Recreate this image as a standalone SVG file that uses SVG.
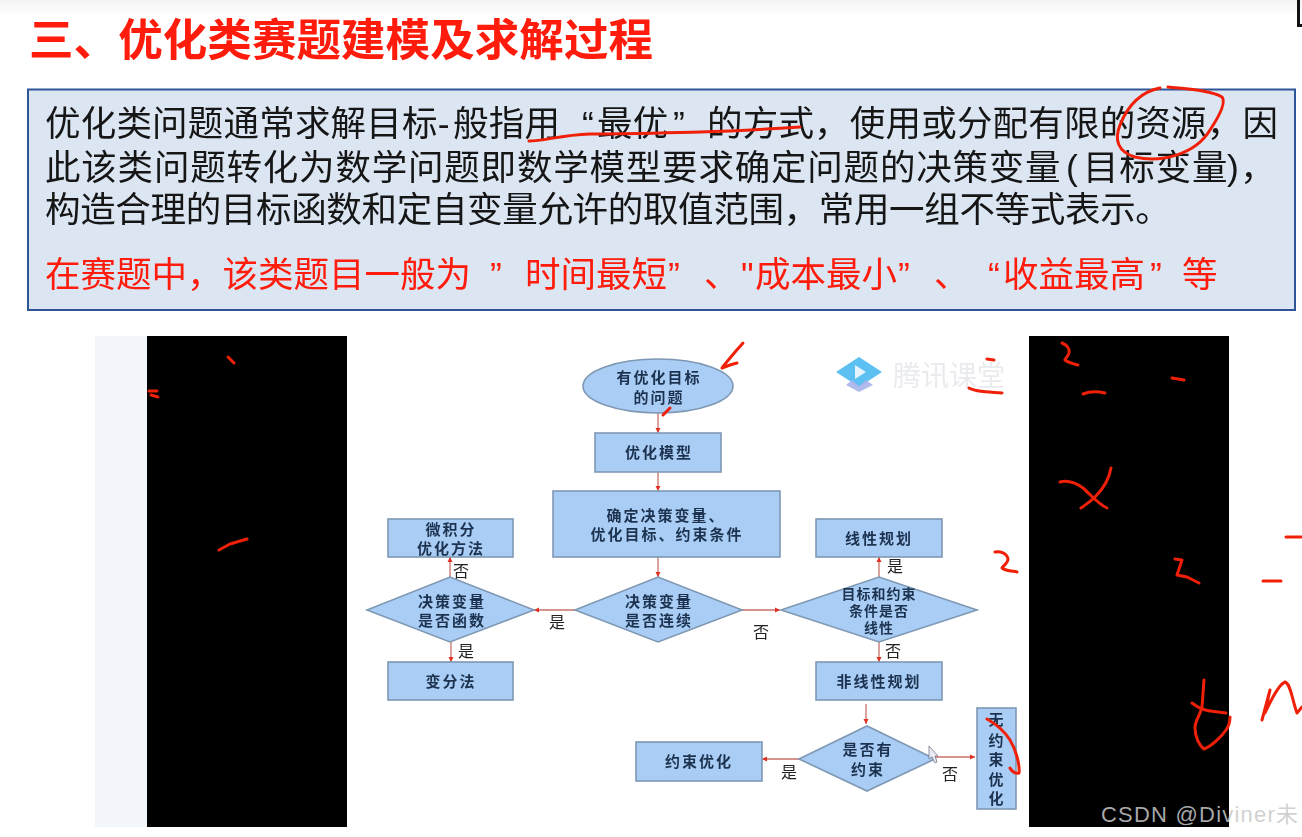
<svg xmlns="http://www.w3.org/2000/svg" width="1302" height="837" viewBox="0 0 1302 837">
<style>
.cjk{font-family:"Noto Sans CJK SC","Noto Sans",sans-serif}
.n{fill:#a9cdf5;stroke:#7f98b3;stroke-width:1.6}
.nt{font-family:"Liberation Sans","Noto Sans CJK SC",sans-serif;font-size:15px;font-weight:700;fill:#1d3350;text-anchor:middle;letter-spacing:2px}
.l{font-family:"Liberation Sans","Noto Sans CJK SC",sans-serif;font-size:16px;fill:#222;text-anchor:middle}
.c{fill:none;stroke:#c8706a;stroke-width:1.3}
.ink{fill:none;stroke:#f02008;stroke-width:3;stroke-linecap:round;stroke-linejoin:round}
.body{font-family:"Liberation Sans","Noto Sans CJK SC",sans-serif;font-size:35.5px;fill:#151515;letter-spacing:0.2px}
.red{font-family:"Liberation Sans","Noto Sans CJK SC",sans-serif;font-size:35.5px;fill:#ff1a08}
</style>
<defs>
<marker id="a" markerWidth="6" markerHeight="6" refX="5" refY="3" orient="auto" markerUnits="userSpaceOnUse"><path d="M0,0.5 L5,3 L0,5.500 Z" fill="#e03020"/></marker>
<filter id="soft" x="-5%" y="-5%" width="110%" height="110%"><feGaussianBlur stdDeviation="0.45"/></filter>
<linearGradient id="top" x1="0" y1="0" x2="0" y2="1"><stop offset="0" stop-color="#f4f4f4"/><stop offset="1" stop-color="#ffffff"/></linearGradient>
</defs>
<rect width="1302" height="837" fill="#fff"/>
<rect width="1302" height="16" fill="url(#top)"/>
<path d="M1297,0 V27 H1302 V24 H1300 V0 Z" fill="#111"/>
<g filter="url(#soft)">
<text class="cjk" x="29" y="56" font-size="44.5" font-weight="700" fill="#ff1a08" textLength="624" lengthAdjust="spacing">三、优化类赛题建模及求解过程</text>
<g id="intro">
<rect x="28" y="89.500" width="1267" height="220.500" fill="#dce6f3" stroke="#2f5597" stroke-width="2"/>
<text class="body" y="136"><tspan x="45">优化类问题通常求解目标-</tspan><tspan x="453">般指用</tspan><tspan x="582">“</tspan><tspan x="597">最优</tspan><tspan x="673">”</tspan><tspan x="707">的方式，使用或分配有限的资源，因</tspan></text>
<text class="body" y="180" style="letter-spacing:0.8px"><tspan x="45">此该类问题转化为数学问题即数学模型要求确定问题的决策变量</tspan><tspan x="1066">(</tspan><tspan x="1083">目标变量</tspan><tspan x="1227">)</tspan><tspan x="1240">，</tspan></text>
<text class="body" x="45" y="222" textLength="1126" lengthAdjust="spacing">构造合理的目标函数和定自变量允许的取值范围，常用一组不等式表示。</text>
<text class="red" y="287"><tspan x="45">在赛题中，该类题目一般为</tspan><tspan x="490">”</tspan><tspan x="525">时间最短</tspan><tspan x="668">”</tspan><tspan x="704">、</tspan><tspan x="741">"</tspan><tspan x="755">成本最小</tspan><tspan x="898">”</tspan><tspan x="934">、</tspan><tspan x="988">“</tspan><tspan x="1003">收益最高</tspan><tspan x="1150">”</tspan><tspan x="1182">等</tspan></text>
</g>
</g>
<rect x="95" y="336" width="52" height="491" fill="#f2f6fb"/>
<rect x="147" y="336" width="200" height="491" fill="#000"/>
<rect x="1029" y="336" width="200" height="491" fill="#000"/>
<g id="logo">
<path d="M836,372 L859,357 L882,372 L859,387 Z" fill="#5cc0f2"/>
<path d="M846,385 L859,392 L873,385 L866,380 L859,386 L852,380 Z" fill="#a9b4ea" opacity="0.9"/>
<path d="M855,365 L866,372 L855,379 Z" fill="#e4f4fc"/>
<text class="cjk" x="893" y="386" font-size="28" font-weight="400" fill="#e9ebee" filter="url(#soft)">腾讯课堂</text>
</g>
<g id="connectors">
<path class="c" marker-end="url(#a)" d="M658,413 V433"/>
<path class="c" marker-end="url(#a)" d="M658,472 V491"/>
<path class="c" marker-end="url(#a)" d="M658,557 V577"/>
<path class="c" marker-end="url(#a)" d="M450,577 V557"/>
<path class="c" marker-end="url(#a)" d="M451,642 V662"/>
<path class="c" marker-end="url(#a)" d="M575,610 H534"/>
<path class="c" marker-end="url(#a)" d="M742,610 H780"/>
<path class="c" marker-end="url(#a)" d="M879,577 V557"/>
<path class="c" marker-end="url(#a)" d="M879,642 V662"/>
<path class="c" marker-end="url(#a)" d="M866,704 V724"/>
<path class="c" marker-end="url(#a)" d="M799,759 H762"/>
<path class="c" marker-end="url(#a)" d="M935,757 H975"/>
</g>
<g filter="url(#soft)">
<g id="n1"><ellipse class="n" cx="658" cy="386" rx="75" ry="27"/><text class="nt" x="659" y="383">有优化目标</text><text class="nt" x="659" y="403">的问题</text></g>
<g id="n2"><rect class="n" x="595" y="433" width="126" height="39"/><text class="nt" x="659" y="458">优化模型</text></g>
<g id="n3"><rect class="n" x="553" y="491" width="227" height="66"/><text class="nt" x="666" y="521">确定决策变量、</text><text class="nt" x="667" y="540">优化目标、约束条件</text></g>
<g id="n4"><rect class="n" x="388" y="519" width="125" height="38"/><text class="nt" x="451" y="535">微积分</text><text class="nt" x="451" y="554">优化方法</text></g>
<g id="n5"><rect class="n" x="816" y="519" width="126" height="38"/><text class="nt" x="879" y="544">线性规划</text></g>
<g id="n6"><polygon class="n" points="367,610 450,577 534,610 450,642"/><text class="nt" x="452" y="607">决策变量</text><text class="nt" x="452" y="626">是否函数</text></g>
<g id="n7"><polygon class="n" points="575,610 658,577 742,610 658,642"/><text class="nt" x="659" y="607">决策变量</text><text class="nt" x="659" y="626">是否连续</text></g>
<g id="n8"><polygon class="n" points="781,610 879,577 977,610 879,642"/><text class="nt" x="879" y="599" style="font-size:14px;letter-spacing:1px">目标和约束</text><text class="nt" x="879" y="616" style="font-size:14px;letter-spacing:1px">条件是否</text><text class="nt" x="879" y="633" style="font-size:14px;letter-spacing:1px">线性</text></g>
<g id="n9"><rect class="n" x="388" y="662" width="125" height="38"/><text class="nt" x="451" y="687">变分法</text></g>
<g id="n10"><rect class="n" x="816" y="662" width="126" height="38"/><text class="nt" x="879" y="687">非线性规划</text></g>
<g id="n11"><polygon class="n" points="799,759 867,726 935,759 867,791"/><text class="nt" x="868" y="755">是否有</text><text class="nt" x="868" y="775">约束</text></g>
<g id="n12"><rect class="n" x="636" y="742" width="126" height="39"/><text class="nt" x="699" y="767">约束优化</text></g>
<g id="n13"><rect class="n" x="977" y="708" width="39" height="101"/><text class="nt" x="997" y="725">无</text><text class="nt" x="997" y="746">约</text><text class="nt" x="997" y="765">束</text><text class="nt" x="997" y="785">优</text><text class="nt" x="997" y="804">化</text></g>
<text class="l" x="461" y="577">否</text>
<text class="l" x="557" y="628">是</text>
<text class="l" x="466" y="657">是</text>
<text class="l" x="761" y="638">否</text>
<text class="l" x="895" y="572">是</text>
<text class="l" x="893" y="657">否</text>
<text class="l" x="789" y="778">是</text>
<text class="l" x="950" y="780">否</text>
</g>
<path d="M929,746 L929,759 L932,757 L935,763 L937,762 L935,756 L938,756 Z" fill="#e8ecf2" stroke="#778" stroke-width="0.8"/>
<g id="annotations">
<path class="ink" d="M529,141 C545,141 560,135 590,134 C630,134 660,133 700,132 C740,131 770,129 800,127"/>
<path class="ink" d="M1168,87 C1185,89 1210,90 1222,97 C1226,102 1220,115 1210,130 C1195,155 1160,163 1135,157 C1118,152 1114,140 1120,125 C1128,105 1140,92 1160,88"/>
<path class="ink" d="M743,343 C735,352 728,360 722,368 C727,366 732,364 737,363"/>
<path class="ink" d="M663,415 L670,408"/>
<path class="ink" d="M987,359 L994,360"/>
<path class="ink" d="M969,388 C975,392 990,392 1002,393"/>
<path class="ink" d="M995,552 C1000,551 1007,553 1008,559 C1008,563 1003,566 1002,568 C1006,571 1012,571 1017,572"/>
<path class="ink" d="M1062,343 C1067,345 1070,349 1069,353 C1068,357 1064,359 1065,360 C1069,363 1074,364 1078,365"/>
<path class="ink" d="M1083,394 C1090,391 1097,391 1105,393"/>
<path class="ink" d="M1172,378 L1184,380"/>
<path class="ink" d="M1060,482 C1068,480 1076,483 1083,488 C1090,494 1098,504 1107,508"/>
<path class="ink" d="M1111,468 C1109,480 1102,490 1095,497 C1090,502 1085,505 1081,508"/>
<path class="ink" d="M1175,559 L1182,560 L1177,575 L1187,577 L1199,583"/>
<path class="ink" d="M1286,537 H1302"/>
<path class="ink" d="M1263,581 H1281"/>
<path class="ink" d="M1204,680 L1202,707 C1200,716 1195,720 1195,728 C1195,738 1200,746 1204,749 C1212,746 1222,736 1226,730 C1229,726 1230,722 1230,717"/>
<path class="ink" d="M1192,703 C1197,707 1203,710 1210,711 L1226,713"/>
<path class="ink" d="M1262,720 L1270,690 L1265,713 C1270,702 1278,685 1285,682 C1291,684 1292,700 1297,713 L1302,707"/>
<path class="ink" d="M987,719 C996,724 1005,732 1010,740 C1016,750 1020,765 1019,773 C1016,774 1012,772 1010,768"/>
<path class="ink" d="M228,357 L234,363"/>
<path class="ink" d="M149,391 H157"/>
<path class="ink" d="M151,395 L158,397"/>
<path class="ink" d="M219,550 L230,544 L247,539"/>
</g>
<text x="1101" y="822" font-family="'Liberation Sans','Noto Sans CJK SC',sans-serif" font-size="22" fill="#c8c8c8" fill-opacity="0.85" textLength="197" lengthAdjust="spacing">CSDN @Diviner未</text>
</svg>
